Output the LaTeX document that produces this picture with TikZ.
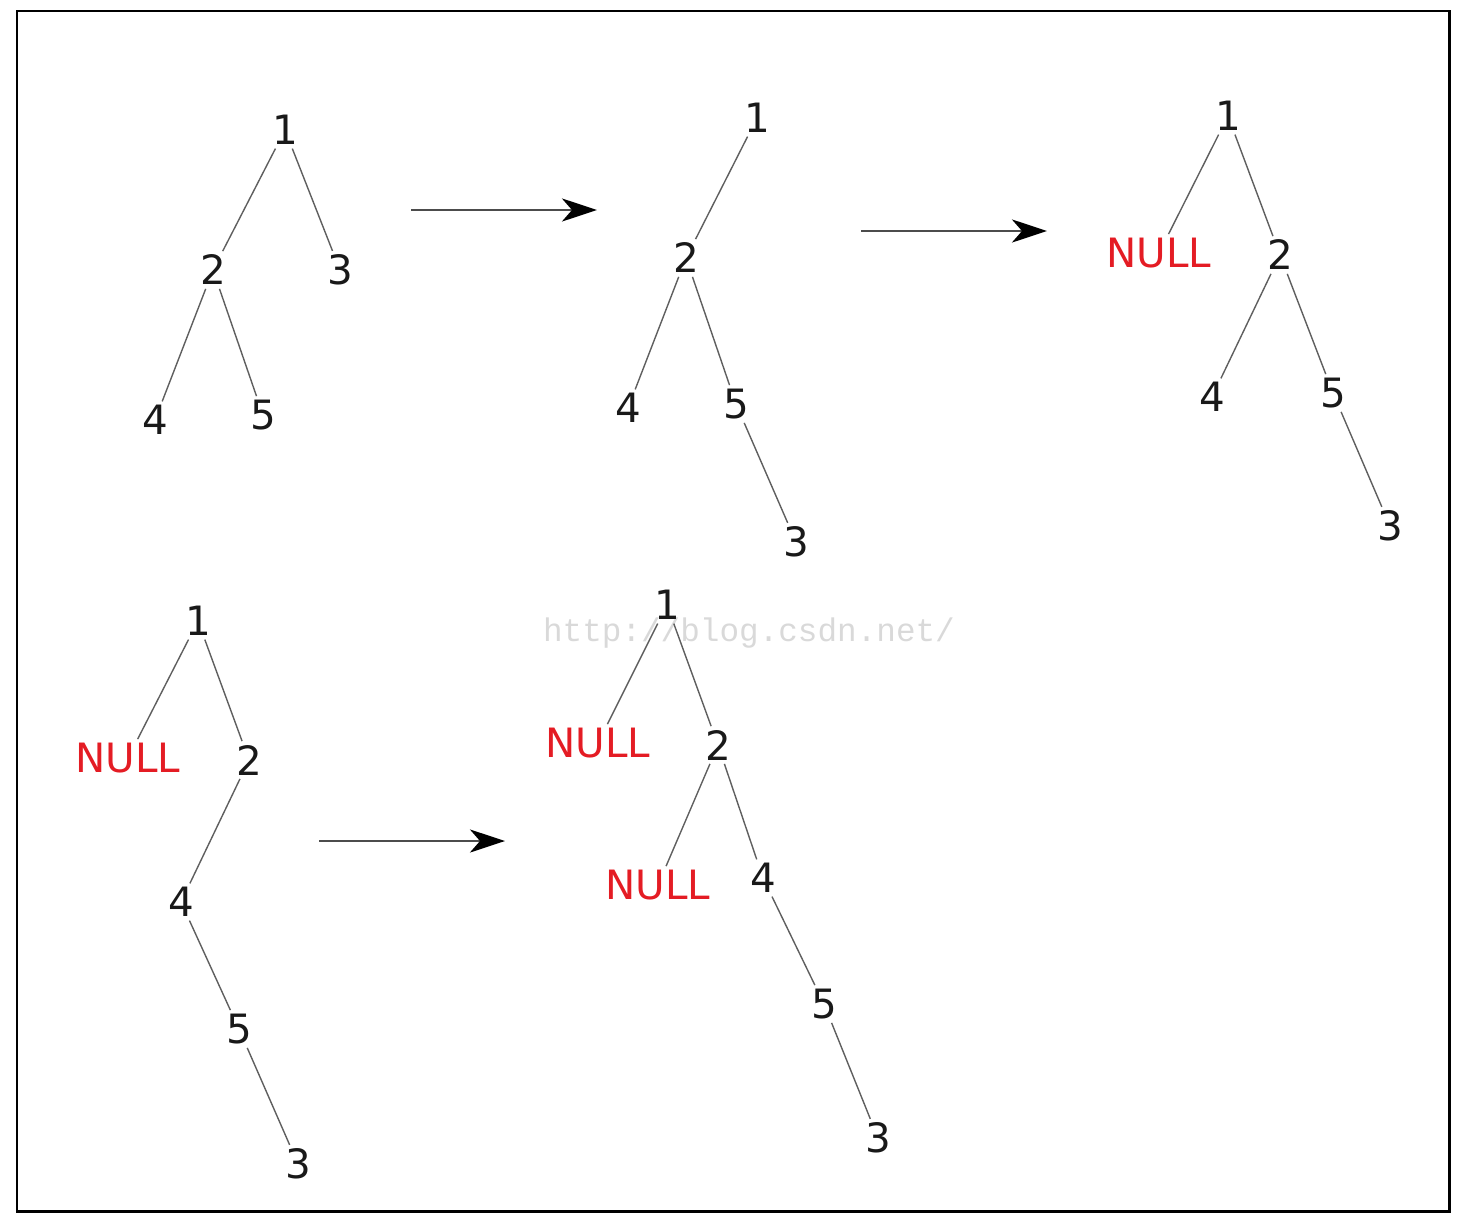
\documentclass[tikz,border=0pt]{standalone}
\usepackage{fontspec}
\usepackage{tikz}
\usetikzlibrary{arrows.meta}

\newfontfamily\treefont{DejaVu Sans}
\newfontfamily\markfont{Liberation Mono}
\definecolor{nullred}{RGB}{228,28,36}
\definecolor{edgegray}{RGB}{95,95,95}

\tikzset{
    key/.style={font=\treefont\fontsize{23}{27}\selectfont, inner sep=2pt, text=black!90},
    nullkey/.style={key, text=nullred},
    branch/.style={draw=edgegray, line width=.8pt},
    step arrow/.style={-{Stealth[length=7mm,width=4.6mm,inset=2mm,black]}, draw=black!70, line width=1.6pt}
}

\begin{document}
\begin{tikzpicture}[x=0.02cm, y=-0.02cm]

    \useasboundingbox (0,0) rectangle (1466,1230);

    % Frame
    \draw[line width=1.7pt] (17,11) rectangle (1449,1211);

    % Watermark
    \node[font=\markfont\fontsize{18.6}{22}\selectfont, text=black!15] (mark) at (749,633) {http://blog.csdn.net/};

    % Tree a
    \node[key] (a1) at (285,130) {1};
    \node[key] (a2) at (213,270) {2};
    \node[key] (a3) at (340,270) {3};
    \node[key] (a4) at (155,420) {4};
    \node[key] (a5) at (263,415) {5};
    \draw[branch] (a1) -- (a2);
    \draw[branch] (a1) -- (a3);
    \draw[branch] (a2) -- (a4);
    \draw[branch] (a2) -- (a5);

    % Arrow a -> b
    \coordinate (ab0) at (411,210);
    \coordinate (ab1) at (597,210);
    \draw[step arrow] (ab0) -- (ab1);

    % Tree b
    \node[key] (b1) at (757,118) {1};
    \node[key] (b2) at (686,258) {2};
    \node[key] (b4) at (628,408) {4};
    \node[key] (b5) at (736,404) {5};
    \node[key] (b3) at (796,542) {3};
    \draw[branch] (b1) -- (b2);
    \draw[branch] (b2) -- (b4);
    \draw[branch] (b2) -- (b5);
    \draw[branch] (b5) -- (b3);

    % Arrow b -> c
    \coordinate (bc0) at (861,231);
    \coordinate (bc1) at (1047,231);
    \draw[step arrow] (bc0) -- (bc1);

    % Tree c
    \node[key] (c1) at (1228,116) {1};
    \node[nullkey] (cn) at (1159,253) {NULL};
    \node[key] (c2) at (1280,255) {2};
    \node[key] (c4) at (1212,397) {4};
    \node[key] (c5) at (1333,393) {5};
    \node[key] (c3) at (1390,526) {3};
    \draw[branch] (c1) -- (cn);
    \draw[branch] (c1) -- (c2);
    \draw[branch] (c2) -- (c4);
    \draw[branch] (c2) -- (c5);
    \draw[branch] (c5) -- (c3);

    % Tree d
    \node[key] (d1) at (198,621) {1};
    \node[nullkey] (dn) at (128,758) {NULL};
    \node[key] (d2) at (249,760) {2};
    \node[key] (d4) at (181,902) {4};
    \node[key] (d5) at (239,1029) {5};
    \node[key] (d3) at (298,1164) {3};
    \draw[branch] (d1) -- (dn);
    \draw[branch] (d1) -- (d2);
    \draw[branch] (d2) -- (d4);
    \draw[branch] (d4) -- (d5);
    \draw[branch] (d5) -- (d3);

    % Arrow d -> e
    \coordinate (de0) at (319,841);
    \coordinate (de1) at (505,841);
    \draw[step arrow] (de0) -- (de1);

    % Tree e
    \node[key] (e1) at (667,605) {1};
    \node[nullkey] (en) at (598,743) {NULL};
    \node[key] (e2) at (718,745) {2};
    \node[nullkey] (enn) at (658,885) {NULL};
    \node[key] (e4) at (763,878) {4};
    \node[key] (e5) at (824,1004) {5};
    \node[key] (e3) at (878,1138) {3};
    \draw[branch] (e1) -- (en);
    \draw[branch] (e1) -- (e2);
    \draw[branch] (e2) -- (enn);
    \draw[branch] (e2) -- (e4);
    \draw[branch] (e4) -- (e5);
    \draw[branch] (e5) -- (e3);

\end{tikzpicture}
\end{document}
